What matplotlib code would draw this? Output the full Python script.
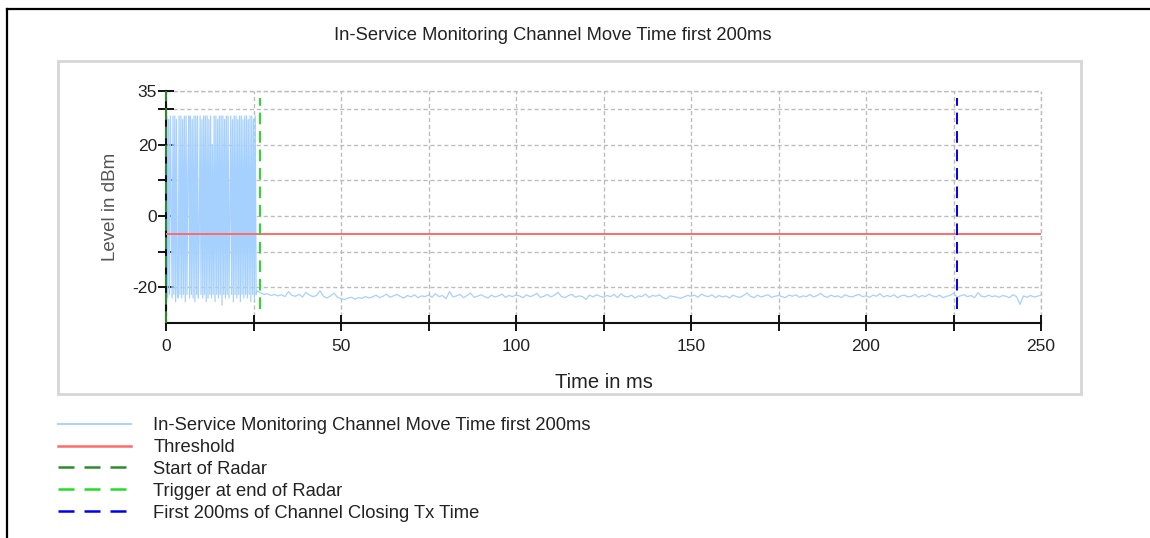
import numpy as np
import matplotlib
matplotlib.use("Agg")
import matplotlib.pyplot as plt
from matplotlib.lines import Line2D
from matplotlib.patches import Rectangle

plt.rcParams['font.family'] = ['Liberation Sans', 'DejaVu Sans']

# level during the radar burst, sampled every 0.25 ms (dBm)
burst_dbm = [-22, 28, -23, 27, -22, 28, 5, -23, 28, -22, 28, -24, 27, -22, -23, 28,
             -22, 28, -23, 27, -22, 28, -24, 28, -22, 12, 28, -23, 28, -22, 27, -23,
             28, -24, 28, -22, 28, -23, -5, 28, -22, 27, -23, 28, -22, 28, -24, 28,
             -23, 27, -22, 28, -23, 20, -22, 28, -24, 28, -22, 27, -23, 28, -22, 28,
             -25, 28, -22, 27, -23, 28, -22, 28, -23, 0, 28, -22, 27, -24, 28, -22,
             28, -23, 27, -22, 28, -24, 28, -22, 27, -23, 28, -22, 28, -23, 27, -22,
             28, -24, 28, -22, 27, -23, 28, -22]
burst_step = 0.25

# noise floor after the burst, one sample per ms starting at 26 ms (dBm)
floor_start = 26
floor_dbm = [
    -21.0, -21.5, -22.0, -21.8, -22.3, -22.0, -22.4, -22.1, -22.6, -21.2, -22.3, -22.5, -22.0,
    -22.7, -21.4, -22.2, -22.6, -22.3, -21.0, -22.5, -23.0, -22.4, -21.6, -22.8, -23.2,
    -23.4, -23.0, -22.8, -23.3, -22.9, -23.1, -22.6, -23.0, -22.7, -22.2, -22.9, -22.5, -21.9,
    -22.8, -22.4, -22.0, -22.6, -23.0, -22.3, -22.7, -22.1, -22.9, -22.4, -22.6, -22.2,
    -22.8, -21.8, -22.6, -22.3, -23.2, -21.2, -22.7, -22.4, -22.0, -22.9, -22.3, -21.6, -22.8,
    -22.5, -22.1, -22.6, -23.0, -22.2, -22.7, -22.4, -21.9, -22.8, -22.3, -22.6, -22.2,
    -22.4, -22.9, -22.1, -22.6, -22.3, -21.7, -22.8, -22.5, -22.0, -22.7, -22.2, -21.4, -22.6,
    -22.9, -22.3, -22.0, -22.8, -22.4, -22.6, -23.4, -22.2, -22.7, -22.1, -22.5, -22.8,
    -22.3, -22.6, -22.0, -22.9, -21.8, -22.5, -22.7, -22.2, -23.0, -22.4, -22.6, -21.9, -22.8,
    -22.3, -22.5, -22.1, -22.9, -23.2, -22.4, -22.6, -22.8, -23.1, -22.7, -22.3, -22.5,
    -22.2, -22.8, -21.9, -22.4, -22.6, -22.1, -22.9, -22.3, -22.7, -22.4, -23.0, -22.2, -22.6,
    -22.8, -22.3, -21.6, -22.5, -22.9, -22.2, -22.7, -22.4, -22.1, -22.8, -22.5, -22.3,
    -22.6, -22.9, -22.2, -22.5, -22.1, -22.8, -22.4, -22.6, -22.0, -22.7, -22.3, -21.7, -22.5,
    -22.8, -22.2, -22.6, -22.4, -22.9, -22.1, -22.5, -22.7, -22.3, -22.0, -22.6, -22.4,
    -22.8, -22.2, -22.5, -21.8, -22.7, -22.3, -22.6, -22.1, -22.9, -22.4, -22.2, -22.7, -22.5,
    -22.0, -22.8, -22.3, -22.6, -21.9, -22.4, -22.7, -22.2, -22.9, -22.5, -22.3, -21.6,
    -22.8, -22.4, -22.1, -22.6, -22.3, -22.9, -21.5, -22.5, -22.7, -22.2, -22.6, -22.4, -22.8,
    -22.3, -22.5, -22.9, -22.1, -22.6, -24.8, -22.4, -22.8, -22.3, -22.7, -22.5, -22.2,
]

threshold_dbm = -5
radar_start_ms = 0
radar_trigger_ms = 26.9
closing_tx_ms = 226

x_ticks = [0, 25, 50, 75, 100, 125, 150, 175, 200, 225, 250]
x_labels = ['0', '', '50', '', '100', '', '150', '', '200', '', '250']
y_ticks = [-20, -10, 0, 10, 20, 30, 35]
y_labels = ['-20', '', '0', '', '20', '', '35']

series_label = 'In-Service Monitoring Channel Move Time first 200ms'
threshold_label = 'Threshold'
start_label = 'Start of Radar'
trigger_label = 'Trigger at end of Radar'
closing_label = 'First 200ms of Channel Closing Tx Time'

time_ms = np.concatenate([np.arange(len(burst_dbm)) * burst_step,
                          floor_start + np.arange(len(floor_dbm))])
level_dbm = np.concatenate([burst_dbm, floor_dbm])

W, H = 1150, 538
fig = plt.figure(figsize=(W / 100, H / 100), dpi=100)
ax = fig.add_axes([166 / W, 1 - 323 / H, (1041 - 166) / W, (323 - 91) / H])

col_signal = '#a6d1ff'
col_thresh = '#ff6b6b'
col_start = '#2e8b2e'
col_trigger = '#22dd22'
col_closing = '#0000ee'
col_grid = '#bdbdbd'
grid_dash = (0, (3, 2))

ax.plot(time_ms, level_dbm, color=col_signal, lw=0.9, zorder=2)
ax.axhline(threshold_dbm, color=col_thresh, lw=1.4, zorder=3)
mark_dash = (6, 3.5)
ax.vlines(radar_start_ms, -30, 35, colors=col_start, lw=1.4, linestyles=[(0, mark_dash)],
          zorder=4, clip_on=False)
ax.vlines(radar_trigger_ms, -26, 33, colors=col_trigger, lw=1.4, linestyles=[(0, mark_dash)], zorder=4)
ax.vlines(closing_tx_ms, -26, 33, colors=col_closing, lw=1.4, linestyles=[(0, mark_dash)], zorder=4)

ax.set_xlim(0, 250)
ax.set_ylim(-30, 35)
ax.set_xticks(x_ticks)
ax.set_xticklabels(x_labels)
ax.set_yticks(y_ticks)
ax.set_yticklabels(y_labels)
ax.grid(True, color=col_grid, lw=1.0, linestyle=grid_dash)
ax.set_axisbelow(True)
# dashed grid lines along the top and right edges stay whole
ax.axhline(35, color=col_grid, lw=1.0, linestyle=grid_dash, clip_on=False, zorder=0.5)
ax.axvline(250, color=col_grid, lw=1.0, linestyle=grid_dash, clip_on=False, zorder=0.5)
for side in ('top', 'right'):
    ax.spines[side].set_visible(False)
for side in ('left', 'bottom'):
    ax.spines[side].set_linewidth(1.5)
    ax.spines[side].set_color('#111111')
ax.tick_params(direction='inout', length=11, width=1.4, color='#111111',
               labelsize=12.5, labelcolor='#222222')
ax.tick_params(axis='x', pad=6)
ax.tick_params(axis='y', pad=1)

ax.set_xlabel('Time in ms', fontsize=14.5, color='#222222', labelpad=14)
ax.set_ylabel('Level in dBm', fontsize=13.5, color='#555555', labelpad=9)
fig.text(553 / W, 1 - 35 / H, series_label, ha='center', va='center',
         fontsize=13.2, color='#222222')

# panel frame round the plot and the outer page border
fig.patches.append(Rectangle((58 / W, 1 - 394 / H), (1081 - 58) / W, (394 - 61) / H,
                             transform=fig.transFigure, fill=False,
                             edgecolor='#d6d6d6', lw=2))
fig.lines.append(Line2D([7 / W, 7 / W], [0, 1 - 9 / H], transform=fig.transFigure,
                        color='black', lw=1.6))
fig.lines.append(Line2D([7 / W, 1], [1 - 9 / H, 1 - 9 / H], transform=fig.transFigure,
                        color='black', lw=1.6))

legend_dash = (0, (6.4, 4.0))
handles = [
    Line2D([], [], color=col_signal, lw=1.4),
    Line2D([], [], color=col_thresh, lw=1.8),
    Line2D([], [], color=col_start, lw=1.8, linestyle=legend_dash),
    Line2D([], [], color=col_trigger, lw=1.8, linestyle=legend_dash),
    Line2D([], [], color=col_closing, lw=1.8, linestyle=legend_dash),
]
labels = [series_label, threshold_label, start_label, trigger_label, closing_label]
fig.legend(handles, labels, loc='upper left', bbox_to_anchor=(58 / W, 1 - 417 / H),
           frameon=False, fontsize=13.2, handlelength=4.0, handletextpad=1.2,
           labelspacing=0.27, borderpad=0, borderaxespad=0, labelcolor='#222222')

fig.savefig('out.png', dpi=100)
